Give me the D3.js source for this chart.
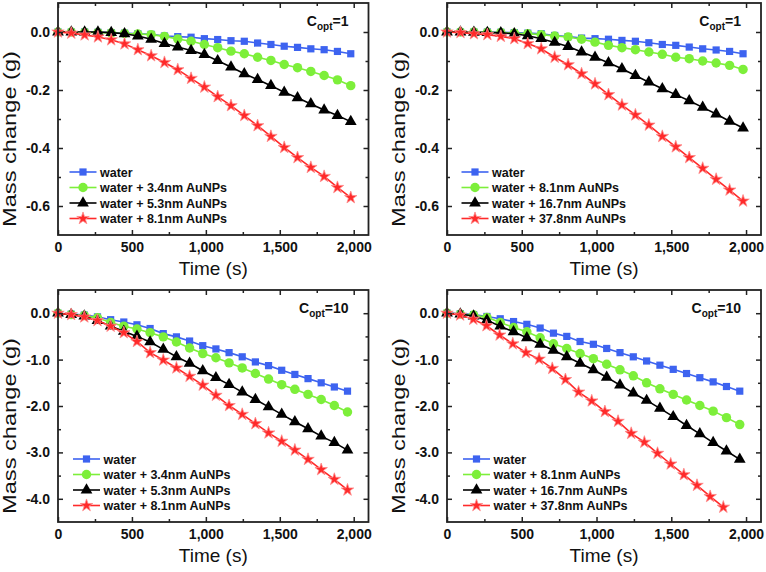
<!DOCTYPE html>
<html><head><meta charset="utf-8">
<script src="https://cdn.jsdelivr.net/npm/d3@7"></script>
<style>body{margin:0;background:#fff} svg{display:block} text{font-family:"Liberation Sans",Arial,sans-serif}</style>
</head><body><svg id="c" width="766" height="572"></svg>
<script>
// ---------- data ----------
const timeTop = [0,90,180,270,360,450,540,630,720,810,900,990,1080,1170,1260,1350,1440,1530,1620,1710,1800,1890,1980];
const timeBottom = [0,89,178,267,356,445,534,623,712,801,890,979,1068,1157,1246,1335,1424,1513,1602,1691,1780,1869,1958];
const timeBottomRightRed = [0,88,176,264,352,440,528,616,704,792,880,968,1056,1144,1232,1320,1408,1496,1584,1672,1760,1848];

// top-left, C_opt = 1
const tlWater = [0,0,0,-0.001,-0.002,-0.004,-0.006,-0.008,-0.014,-0.016,-0.018,-0.023,-0.026,-0.030,-0.032,-0.038,-0.043,-0.049,-0.053,-0.058,-0.061,-0.067,-0.075];
const tlAu34  = [0,0,-0.001,-0.002,-0.003,-0.005,-0.007,-0.009,-0.015,-0.024,-0.032,-0.043,-0.054,-0.066,-0.075,-0.087,-0.098,-0.112,-0.123,-0.136,-0.150,-0.165,-0.185];
const tlAu53  = [0,0,0,0,-0.002,-0.006,-0.014,-0.025,-0.040,-0.052,-0.064,-0.078,-0.099,-0.121,-0.144,-0.164,-0.185,-0.208,-0.227,-0.248,-0.269,-0.288,-0.309];
const tlAu81  = [0,-0.004,-0.010,-0.017,-0.027,-0.041,-0.061,-0.082,-0.105,-0.130,-0.160,-0.190,-0.223,-0.254,-0.288,-0.323,-0.360,-0.398,-0.433,-0.467,-0.498,-0.536,-0.571];

// top-right, C_opt = 1
const trWater = [0,0,0,0,-0.001,-0.002,-0.004,-0.006,-0.012,-0.016,-0.021,-0.023,-0.025,-0.029,-0.032,-0.037,-0.043,-0.046,-0.052,-0.058,-0.062,-0.067,-0.075];
const trAu81  = [0,0,0,-0.001,-0.002,-0.004,-0.006,-0.009,-0.014,-0.017,-0.025,-0.035,-0.046,-0.054,-0.061,-0.069,-0.077,-0.087,-0.092,-0.100,-0.107,-0.115,-0.129];
const trAu167 = [0,0,-0.001,-0.002,-0.003,-0.006,-0.013,-0.023,-0.036,-0.050,-0.069,-0.087,-0.106,-0.127,-0.150,-0.173,-0.196,-0.216,-0.237,-0.260,-0.283,-0.308,-0.331];
const trAu378 = [0,-0.002,-0.006,-0.009,-0.015,-0.023,-0.040,-0.058,-0.087,-0.113,-0.144,-0.179,-0.216,-0.252,-0.286,-0.321,-0.360,-0.396,-0.433,-0.470,-0.508,-0.545,-0.583];

// bottom-left, C_opt = 10
const blWater = [0,-0.02,-0.04,-0.08,-0.14,-0.19,-0.25,-0.33,-0.44,-0.51,-0.60,-0.70,-0.77,-0.85,-0.94,-1.05,-1.13,-1.23,-1.32,-1.41,-1.50,-1.59,-1.68];
const blAu34  = [0,-0.03,-0.05,-0.10,-0.20,-0.28,-0.34,-0.42,-0.51,-0.62,-0.75,-0.87,-0.96,-1.07,-1.18,-1.30,-1.42,-1.54,-1.64,-1.75,-1.86,-1.99,-2.13];
const blAu53  = [0,-0.03,-0.06,-0.16,-0.28,-0.39,-0.50,-0.62,-0.78,-0.94,-1.08,-1.24,-1.39,-1.54,-1.70,-1.86,-2.02,-2.18,-2.34,-2.49,-2.65,-2.79,-2.95];
const blAu81  = [0,-0.03,-0.08,-0.16,-0.28,-0.42,-0.61,-0.85,-1.01,-1.18,-1.36,-1.55,-1.77,-1.99,-2.18,-2.38,-2.58,-2.76,-2.95,-3.15,-3.37,-3.58,-3.81];

// bottom-right, C_opt = 10
const brWater = [0,-0.01,-0.03,-0.07,-0.12,-0.18,-0.24,-0.32,-0.43,-0.50,-0.61,-0.67,-0.76,-0.85,-0.94,-1.03,-1.12,-1.21,-1.30,-1.39,-1.48,-1.58,-1.68];
const brAu81  = [0,-0.02,-0.04,-0.09,-0.20,-0.31,-0.40,-0.53,-0.66,-0.76,-0.87,-0.98,-1.10,-1.22,-1.35,-1.50,-1.63,-1.75,-1.87,-1.99,-2.11,-2.25,-2.40];
const brAu167 = [0,-0.02,-0.06,-0.15,-0.28,-0.40,-0.53,-0.67,-0.80,-0.94,-1.08,-1.22,-1.38,-1.55,-1.72,-1.88,-2.05,-2.23,-2.42,-2.60,-2.79,-2.97,-3.15];
const brAu378 = [0,-0.04,-0.13,-0.27,-0.47,-0.66,-0.85,-0.99,-1.19,-1.43,-1.70,-1.89,-2.12,-2.33,-2.59,-2.78,-3.02,-3.25,-3.48,-3.71,-3.95,-4.18];

const legendLeft  = ["water","water + 3.4nm AuNPs","water + 5.3nm AuNPs","water + 8.1nm AuNPs"];
const legendRight = ["water","water + 8.1nm AuNPs","water + 16.7nm AuNPs","water + 37.8nm AuNPs"];

const xTickValues = [0,500,1000,1500,2000];
const xTickLabels = ["0","500","1,000","1,500","2,000"];
const xMinorValues = [250,750,1250,1750];
const yTopTickValues = [0,-0.2,-0.4,-0.6];
const yTopTickLabels = ["0.0","-0.2","-0.4","-0.6"];
const yTopMinorValues = [-0.1,-0.3,-0.5];
const yBotTickValues = [0,-1,-2,-3,-4];
const yBotTickLabels = ["0.0","-1.0","-2.0","-3.0","-4.0"];
const yBotMinorValues = [-0.5,-1.5,-2.5,-3.5];
const coptValues = ["1","1","10","10"];

// ---------- styles ----------
const colors = ["#3d63f0","#7def3a","#000000","#ff2a2a"];
const symbols = [d3.symbolSquare, d3.symbolCircle, d3.symbolTriangle, d3.symbolStar];
const symSizes = [52, 70, 60, 48];
const FONT = '"Liberation Sans",Arial,sans-serif';

const svg = d3.select("#c");

const panels = [
  {left:58, right:368.5, top:3, bottom:235, yDomain:[-0.7,0.1], yT:yTopTickValues, yL:yTopTickLabels, yM:yTopMinorValues,
   series:[[timeTop,tlWater],[timeTop,tlAu34],[timeTop,tlAu53],[timeTop,tlAu81]], legend:legendLeft, legX:83, legY:172, copt:coptValues[0]},
  {left:447, right:761, top:3, bottom:235, yDomain:[-0.7,0.1], yT:yTopTickValues, yL:yTopTickLabels, yM:yTopMinorValues,
   series:[[timeTop,trWater],[timeTop,trAu81],[timeTop,trAu167],[timeTop,trAu378]], legend:legendRight, legX:475, legY:172, copt:coptValues[1]},
  {left:58, right:368.5, top:290, bottom:522, yDomain:[-4.5,0.5], yT:yBotTickValues, yL:yBotTickLabels, yM:yBotMinorValues,
   series:[[timeBottom,blWater],[timeBottom,blAu34],[timeBottom,blAu53],[timeBottom,blAu81]], legend:legendLeft, legX:86.5, legY:459, copt:coptValues[2]},
  {left:447, right:761, top:290, bottom:522, yDomain:[-4.5,0.5], yT:yBotTickValues, yL:yBotTickLabels, yM:yBotMinorValues,
   series:[[timeBottom,brWater],[timeBottom,brAu81],[timeBottom,brAu167],[timeBottomRightRed,brAu378]], legend:legendRight, legX:476.5, legY:459, copt:coptValues[3]}
];

function styleAxis(g){
  g.select(".domain").remove();
  g.selectAll(".tick line").attr("stroke","#222").attr("stroke-width",1.5);
  g.attr("font-family",FONT).attr("font-size",14).attr("font-weight","bold");
  g.selectAll("text").attr("fill","#111");
}

panels.forEach(p => {
  const x = d3.scaleLinear().domain([0,2100]).range([p.left,p.right]);
  const y = d3.scaleLinear().domain(p.yDomain).range([p.bottom,p.top]);
  const g = svg.append("g");

  // series
  p.series.forEach((s,k) => {
    const pts = s[0].map((t,i) => [t, s[1][i]]);
    g.append("path").attr("d", d3.line().x(d=>x(d[0])).y(d=>y(d[1]))(pts))
      .attr("fill","none").attr("stroke",colors[k]).attr("stroke-width",1.6);
    g.selectAll(null).data(pts).enter().append("path")
      .attr("transform", d=>`translate(${x(d[0])},${y(d[1])})`)
      .attr("d", d3.symbol().type(symbols[k]).size(symSizes[k]))
      .attr("fill",colors[k])
      .attr("stroke", k===3 ? "#ff8c8c" : "none").attr("stroke-width",0.8);
  });

  // axes (ticks inward)
  const bx = g.append("g").attr("transform",`translate(0,${p.bottom})`)
    .call(d3.axisBottom(x).tickValues(xTickValues).tickFormat((d,i)=>xTickLabels[i]).tickSize(-5).tickPadding(7));
  styleAxis(bx);
  const bxm = g.append("g").attr("transform",`translate(0,${p.bottom})`)
    .call(d3.axisBottom(x).tickValues(xMinorValues).tickFormat("").tickSize(-3));
  styleAxis(bxm);
  const tx = g.append("g").attr("transform",`translate(0,${p.top})`)
    .call(d3.axisTop(x).tickValues(xTickValues).tickFormat("").tickSize(-5));
  styleAxis(tx);
  const txm = g.append("g").attr("transform",`translate(0,${p.top})`)
    .call(d3.axisTop(x).tickValues(xMinorValues).tickFormat("").tickSize(-3));
  styleAxis(txm);
  const ly = g.append("g").attr("transform",`translate(${p.left},0)`)
    .call(d3.axisLeft(y).tickValues(p.yT).tickFormat((d,i)=>p.yL[i]).tickSize(-5).tickPadding(8));
  styleAxis(ly);
  const lym = g.append("g").attr("transform",`translate(${p.left},0)`)
    .call(d3.axisLeft(y).tickValues(p.yM).tickFormat("").tickSize(-3));
  styleAxis(lym);
  const ry = g.append("g").attr("transform",`translate(${p.right},0)`)
    .call(d3.axisRight(y).tickValues(p.yT).tickFormat("").tickSize(-5));
  styleAxis(ry);
  const rym = g.append("g").attr("transform",`translate(${p.right},0)`)
    .call(d3.axisRight(y).tickValues(p.yM).tickFormat("").tickSize(-3));
  styleAxis(rym);

  // frame
  g.append("rect").attr("x",p.left).attr("y",p.top).attr("width",p.right-p.left).attr("height",p.bottom-p.top)
    .attr("fill","none").attr("stroke","#222").attr("stroke-width",1.8);

  // axis titles
  g.append("text").attr("x",(p.left+p.right)/2).attr("y",p.bottom+40).attr("text-anchor","middle")
    .attr("font-size",19).attr("fill","#111").text("Time (s)");
  g.append("text").attr("transform",`translate(${p.left-42},${p.top+136}) rotate(-90)`)
    .attr("text-anchor","middle").attr("font-size",18.5).attr("fill","#111")
    .attr("textLength",176).attr("lengthAdjust","spacingAndGlyphs").text("Mass change (g)");

  // C_opt label
  const ct = g.append("text").attr("x",p.right-20).attr("y",p.top+23).attr("text-anchor","end")
    .attr("font-weight","bold").attr("font-size",14).attr("fill","#111");
  ct.append("tspan").text("C");
  ct.append("tspan").attr("font-size",10).attr("dy",4).text("opt");
  ct.append("tspan").attr("dy",-4).text("=" + p.copt);

  // legend
  p.legend.forEach((lab,k) => {
    const yy = p.legY + k*15.5;
    g.append("line").attr("x1",p.legX-13.5).attr("x2",p.legX+13.5).attr("y1",yy).attr("y2",yy)
      .attr("stroke",colors[k]).attr("stroke-width",1.6);
    g.append("path").attr("transform",`translate(${p.legX},${yy})`)
      .attr("d", d3.symbol().type(symbols[k]).size(symSizes[k]))
      .attr("fill",colors[k]).attr("stroke", k===3 ? "#ff8c8c" : "none").attr("stroke-width",0.8);
    g.append("text").attr("x",p.legX+17).attr("y",yy+4.5).attr("font-size",12.5).attr("font-weight","bold")
      .attr("fill","#111").text(lab);
  });
});
</script></body></html>
